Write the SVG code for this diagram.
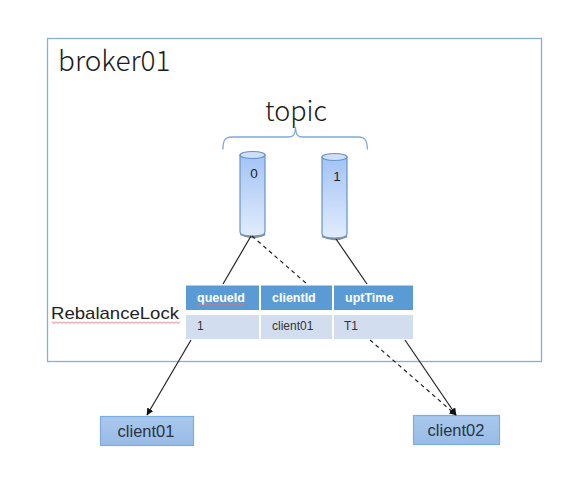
<svg xmlns="http://www.w3.org/2000/svg" width="564" height="495" viewBox="0 0 564 495">
<defs>
<linearGradient id="cyl" x1="0" y1="0" x2="0" y2="1"><stop offset="0" stop-color="#a3c3f5"/><stop offset="1" stop-color="#e1ecfd"/></linearGradient>
<linearGradient id="box" x1="0" y1="0" x2="0" y2="1"><stop offset="0" stop-color="#a9c8ec"/><stop offset="1" stop-color="#98bbe6"/></linearGradient>
<marker id="arr" markerWidth="8" markerHeight="8" refX="6.500" refY="3.500" orient="auto" markerUnits="userSpaceOnUse"><path d="M0 0L7 3.500L0 7z" fill="#111"/></marker>
<pattern id="wavy" width="4" height="3" patternUnits="userSpaceOnUse"><path d="M0 .5L2 2.500L4 .5" fill="none" stroke="#ee6a70" stroke-width="1"/></pattern>
</defs>
<style>
text{font-family:"Liberation Sans",Arial,sans-serif;fill:#222}
.big{font-family:"Noto Sans CJK SC","Noto Sans",sans-serif;font-weight:300;fill:#1c1c1c}
.cy{fill:url(#cyl);stroke:#6594cc;stroke-width:1.200}
.top{fill:#cfdff7;stroke:#6594cc;stroke-width:1.200}
.sh{fill:none;stroke:#8a8a8a;stroke-width:2.500}
.h{fill:#5b9bd5}
.c{fill:#d2deef}
.ht{font-size:12.500px;font-weight:bold;fill:#fff}
.bt{font-size:12px;fill:#333}
.cl{fill:url(#box);stroke:#7aaee2;stroke-width:1.200}
.ct{font-size:16.500px;fill:#2b3440}
.cn{fill:none;stroke:#222;stroke-width:1.200}
.d{stroke-dasharray:4 3.500}
.sq{fill:url(#wavy)}
</style>
<g id="broker01">
<rect x="47.500" y="38.500" width="494" height="323" fill="#fff" stroke="#86aedb" stroke-width="1.300"/>
<text class="big" x="58" y="71" font-size="28">broker01</text>
</g>
<g id="topic">
<text class="big" x="296" y="121" font-size="27" text-anchor="middle">topic</text>
<path d="M223 149.500C223 140 225 137 232 137L288 137C293 137 295 136 295.500 127C296 136 298 137 303 137L358 137C365 137 367 140 367.500 149.500" fill="none" stroke="#7fa9da" stroke-width="1.300"/>
</g>
<g id="queue0">
<path class="sh" d="M240.500 234Q252 240 265 234"/>
<path class="cy" d="M240 155V232Q240 236 252.500 236T265 232V155z"/>
<ellipse class="top" cx="252.500" cy="155" rx="12.500" ry="3.500"/>
<text x="254" y="178" font-size="13.500" text-anchor="middle">0</text>
</g>
<g id="queue1">
<path class="sh" d="M322 236Q334 242 347 236"/>
<path class="cy" d="M322 157V234Q322 238 334.500 238T347 234V157z"/>
<ellipse class="top" cx="334.500" cy="157" rx="12.500" ry="3.500"/>
<text x="337" y="181" font-size="13.500" text-anchor="middle">1</text>
</g>
<g id="RebalanceLock">
<text x="51" y="319" font-size="17" textLength="128" lengthAdjust="spacingAndGlyphs">RebalanceLock</text>
<rect class="sq" x="52" y="321" width="128" height="3"/>
</g>
<g id="table">
<rect class="h" x="186" y="285.500" width="73" height="24.500"/>
<rect class="h" x="261" y="285.500" width="71" height="24.500"/>
<rect class="h" x="334" y="285.500" width="79" height="24.500"/>
<rect class="c" x="186" y="315" width="73" height="24"/>
<rect class="c" x="261" y="315" width="71" height="24"/>
<rect class="c" x="334" y="315" width="79" height="24"/>
<text class="ht" x="197" y="302">queueId</text>
<text class="ht" x="272" y="302">clientId</text>
<text class="ht" x="345" y="302">uptTime</text>
<text class="bt" x="197" y="330">1</text>
<text class="bt" x="272" y="330">client01</text>
<text class="bt" x="344" y="330">T1</text>
<rect class="sq" x="197" y="303" width="48" height="3"/>
</g>
<g id="client01">
<rect class="cl" x="100.500" y="416.500" width="93" height="29"/>
<text class="ct" x="146" y="437" text-anchor="middle">client01</text>
</g>
<g id="client02">
<rect class="cl" x="413.500" y="415.500" width="86" height="29"/>
<text class="ct" x="456" y="436" text-anchor="middle">client02</text>
</g>
<g id="connectors">
<path class="cn" d="M223 284L251 236"/>
<path class="cn d" d="M252 236L307 284"/>
<path class="cn" d="M336 239L367 284"/>
<path class="cn" d="M191 340L147 415" marker-end="url(#arr)"/>
<path class="cn d" d="M370 340L456 415" marker-end="url(#arr)"/>
<path class="cn" d="M405 340L456 415" marker-end="url(#arr)"/>
</g>
</svg>
